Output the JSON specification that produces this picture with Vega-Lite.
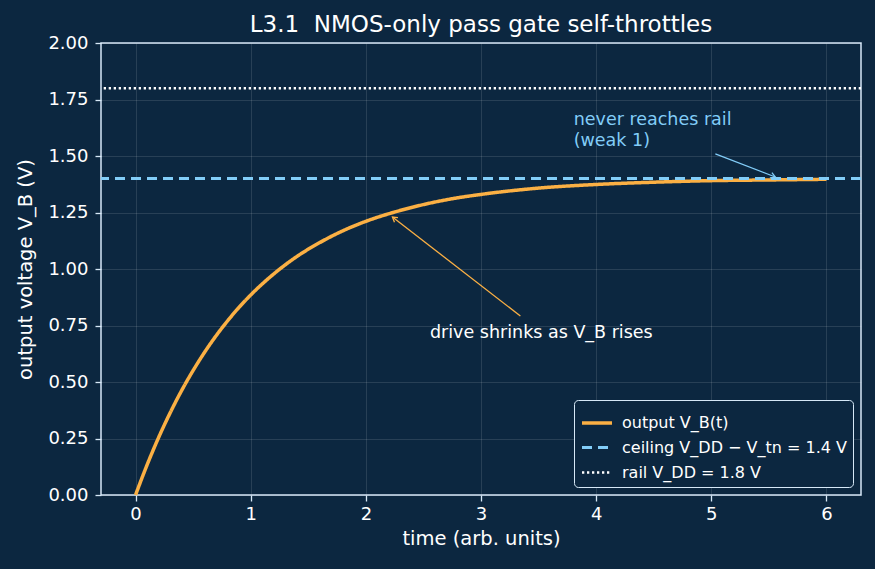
{
  "$schema": "https://vega.github.io/schema/vega-lite/v6.json",
  "width": 760,
  "height": 452,
  "autosize": {"type": "none"},
  "padding": {"left": 101, "top": 43, "right": 14, "bottom": 74},
  "background": "#0c2740",
  "title": {"text": "L3.1 \u00a0NMOS-only pass gate self-throttles", "fontSize": 23, "fontWeight": "normal", "color": "#ffffff", "font": "DejaVu Sans", "offset": -3, "anchor": "middle"},
  "config": {
    "font": "DejaVu Sans",
    "view": {"stroke": "#d6e8f7", "strokeWidth": 1.5},
    "axis": {
      "labelColor": "#ffffff", "labelFontSize": 18, "titleColor": "#ffffff", "titleFontSize": 19.5, "titleFontWeight": "normal",
      "tickColor": "#d6e8f7", "tickSize": 6, "tickWidth": 1.3, "domain": false, "gridColor": "#ffffff", "gridOpacity": 0.15, "gridWidth": 0.8
    },
    "axisX": {"labelPadding": 4, "titlePadding": 6},
    "axisY": {"labelPadding": 7, "titlePadding": 12},
    "legend": {
      "orient": "bottom-right", "offset": 8, "fillColor": "#0c2740", "strokeColor": "#d6e8f7", "cornerRadius": 4, "padding": 6,
      "labelColor": "#ffffff", "labelFontSize": 16, "labelLimit": 400, "symbolType": "stroke", "symbolSize": 900, "rowPadding": 0, "labelOffset": 8
    }
  },
  "layer": [
    {
      "data": {"values": [
        {"t": 0, "v": 0, "series": "output V_B(t)"},
        {"t": 0.1, "v": 0.133, "series": "output V_B(t)"},
        {"t": 0.2, "v": 0.254, "series": "output V_B(t)"},
        {"t": 0.3, "v": 0.363, "series": "output V_B(t)"},
        {"t": 0.4, "v": 0.462, "series": "output V_B(t)"},
        {"t": 0.5, "v": 0.551, "series": "output V_B(t)"},
        {"t": 0.6, "v": 0.632, "series": "output V_B(t)"},
        {"t": 0.7, "v": 0.705, "series": "output V_B(t)"},
        {"t": 0.8, "v": 0.771, "series": "output V_B(t)"},
        {"t": 0.9, "v": 0.831, "series": "output V_B(t)"},
        {"t": 1.0, "v": 0.885, "series": "output V_B(t)"},
        {"t": 1.2, "v": 0.978, "series": "output V_B(t)"},
        {"t": 1.4, "v": 1.055, "series": "output V_B(t)"},
        {"t": 1.6, "v": 1.117, "series": "output V_B(t)"},
        {"t": 1.8, "v": 1.169, "series": "output V_B(t)"},
        {"t": 2.0, "v": 1.211, "series": "output V_B(t)"},
        {"t": 2.25, "v": 1.252, "series": "output V_B(t)"},
        {"t": 2.5, "v": 1.285, "series": "output V_B(t)"},
        {"t": 2.75, "v": 1.311, "series": "output V_B(t)"},
        {"t": 3.0, "v": 1.330, "series": "output V_B(t)"},
        {"t": 3.5, "v": 1.358, "series": "output V_B(t)"},
        {"t": 4.0, "v": 1.374, "series": "output V_B(t)"},
        {"t": 4.5, "v": 1.384, "series": "output V_B(t)"},
        {"t": 5.0, "v": 1.391, "series": "output V_B(t)"},
        {"t": 5.5, "v": 1.394, "series": "output V_B(t)"},
        {"t": 6.0, "v": 1.397, "series": "output V_B(t)"}
      ]},
      "mark": {"type": "line", "interpolate": "monotone", "strokeCap": "butt"},
      "encoding": {
        "x": {"field": "t", "type": "quantitative", "scale": {"domain": [-0.3, 6.3], "nice": false, "zero": false}, "axis": {"values": [0, 1, 2, 3, 4, 5, 6], "title": "time (arb. units)", "format": "d"}},
        "y": {"field": "v", "type": "quantitative", "scale": {"domain": [0, 2], "nice": false}, "axis": {"values": [0, 0.25, 0.5, 0.75, 1, 1.25, 1.5, 1.75, 2], "format": ".2f", "title": "output voltage V_B (V)"}},
        "color": {"field": "series", "type": "nominal", "scale": {"domain": ["output V_B(t)", "ceiling V_DD − V_tn = 1.4 V", "rail V_DD = 1.8 V"], "range": ["#fbb044", "#82cdf8", "#ffffff"]}, "legend": {"title": null}},
        "strokeDash": {"field": "series", "type": "nominal", "scale": {"domain": ["output V_B(t)", "ceiling V_DD − V_tn = 1.4 V", "rail V_DD = 1.8 V"], "range": [[1, 0], [10, 6], [2.3, 2.7]]}, "legend": {"title": null}},
        "strokeWidth": {"field": "series", "type": "nominal", "scale": {"domain": ["output V_B(t)", "ceiling V_DD − V_tn = 1.4 V", "rail V_DD = 1.8 V"], "range": [3.5, 2.5, 2.3]}, "legend": {"title": null}}
      }
    },
    {
      "data": {"values": [
        {"v": 1.4, "series": "ceiling V_DD − V_tn = 1.4 V"},
        {"v": 1.8, "series": "rail V_DD = 1.8 V"}
      ]},
      "mark": {"type": "rule"},
      "encoding": {
        "y": {"field": "v", "type": "quantitative"},
        "color": {"field": "series", "type": "nominal", "legend": {"title": null}},
        "strokeDash": {"field": "series", "type": "nominal", "legend": {"title": null}},
        "strokeWidth": {"field": "series", "type": "nominal", "legend": {"title": null}}
      }
    },
    {
      "data": {"values": [{"x": 5.035, "y": 1.509, "x2": 5.556, "y2": 1.407}]},
      "mark": {"type": "rule", "color": "#82cdf8", "strokeWidth": 1.3},
      "encoding": {"x": {"field": "x", "type": "quantitative"}, "y": {"field": "y", "type": "quantitative"}, "x2": {"field": "x2"}, "y2": {"field": "y2"}}
    },
    {
      "data": {"values": [{"x": 5.556, "y": 1.407, "a": 21}]},
      "mark": {"type": "point", "shape": "M-1,-0.6L0,0L-1,0.6", "filled": false, "color": "#82cdf8", "strokeWidth": 1.3, "size": 90, "opacity": 1},
      "encoding": {"x": {"field": "x", "type": "quantitative"}, "y": {"field": "y", "type": "quantitative"}, "angle": {"field": "a", "type": "quantitative", "scale": null}}
    },
    {
      "data": {"values": [{"x": 3.342, "y": 0.792, "x2": 2.231, "y2": 1.230}]},
      "mark": {"type": "rule", "color": "#fbb044", "strokeWidth": 1.3},
      "encoding": {"x": {"field": "x", "type": "quantitative"}, "y": {"field": "y", "type": "quantitative"}, "x2": {"field": "x2"}, "y2": {"field": "y2"}}
    },
    {
      "data": {"values": [{"x": 2.231, "y": 1.230, "a": 217.7}]},
      "mark": {"type": "point", "shape": "M-1,-0.6L0,0L-1,0.6", "filled": false, "color": "#fbb044", "strokeWidth": 1.3, "size": 90, "opacity": 1},
      "encoding": {"x": {"field": "x", "type": "quantitative"}, "y": {"field": "y", "type": "quantitative"}, "angle": {"field": "a", "type": "quantitative", "scale": null}}
    },
    {
      "data": {"values": [{"x": 3.805, "y": 1.637, "label": "never reaches rail\n(weak 1)"}]},
      "mark": {"type": "text", "align": "left", "baseline": "alphabetic", "fontSize": 17.5, "color": "#82cdf8", "lineBreak": "\n", "lineHeight": 21},
      "encoding": {"x": {"field": "x", "type": "quantitative"}, "y": {"field": "y", "type": "quantitative"}, "text": {"field": "label"}}
    },
    {
      "data": {"values": [{"x": 3.524, "y": 0.695, "label": "drive shrinks as V_B rises"}]},
      "mark": {"type": "text", "align": "center", "baseline": "alphabetic", "fontSize": 17.5, "color": "#ffffff"},
      "encoding": {"x": {"field": "x", "type": "quantitative"}, "y": {"field": "y", "type": "quantitative"}, "text": {"field": "label"}}
    }
  ],
  "resolve": {"scale": {"color": "shared", "strokeDash": "shared", "strokeWidth": "shared"}}
}
